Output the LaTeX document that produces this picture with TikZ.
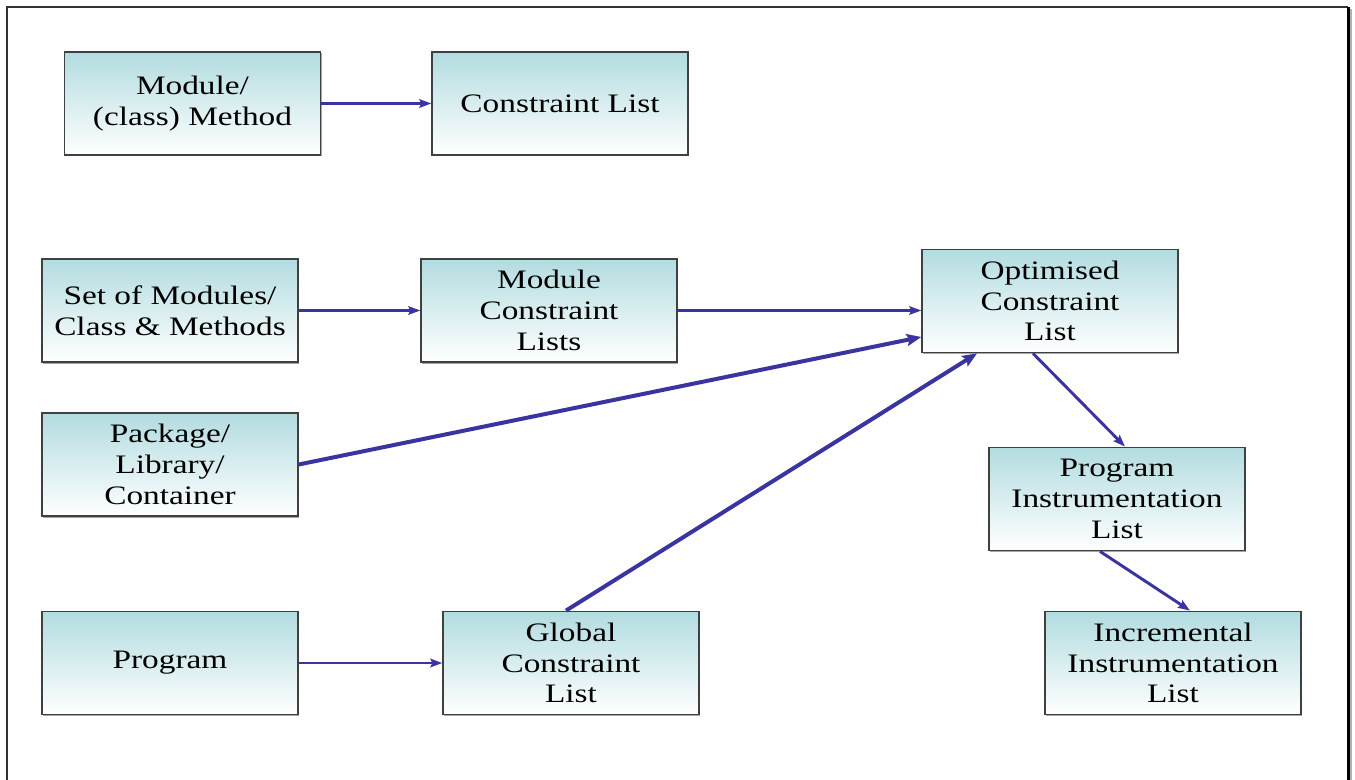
\documentclass[tikz,border=0pt]{standalone}
\usepackage{fontspec}
\setmainfont{Liberation Serif}[FakeStretch=1.25]
\usetikzlibrary{arrows.meta,shadows,calc}
\definecolor{boxtop}{RGB}{178,220,224}
\definecolor{boxedge}{RGB}{64,64,64}
\definecolor{flow}{RGB}{58,52,160}
\tikzset{
  box/.style={draw=boxedge, line width=1.1pt, rectangle,
    top color=boxtop, bottom color=white,
    minimum width=192pt, minimum height=77.5pt,
    align=center, inner sep=2pt,
    font=\fontsize{20}{23}\selectfont,
    drop shadow={shadow xshift=1pt, shadow yshift=-1pt, opacity=0.35, fill=black}},
  thin flow/.style={draw=flow, line width=1.6pt,
    -{Stealth[length=9pt,width=6.5pt,inset=1.5pt]}},
  thick flow/.style={draw=flow, line width=3pt,
    -{Stealth[length=11pt,width=9pt,inset=2pt]}}
}
\begin{document}
\begin{tikzpicture}[x=0.75pt,y=-0.75pt]
  \useasboundingbox (0,0) rectangle (1355,780);
  \clip (0,0) rectangle (1355,780);
  % outer frame
  \fill[gray!60] (1350,9) rectangle (1352,800);
  \draw[line width=0.9pt, black!80] (7,800) -- (7,7) -- (1348,7);
  \draw[line width=1.6pt, black] (1348.5,7) -- (1348.5,800);

  % boxes
  \node[box] (method)  at (192.5,103.5) {Module/\\(class) Method};
  \node[box] (clist)   at (560,103.5)   {Constraint List};
  \node[box] (setmod)  at (170,310.5)   {Set of Modules/\\Class \& Methods};
  \node[box] (mclist)  at (549,310.5)   {Module\\Constraint\\Lists};
  \node[box] (opt)     at (1050,301)    {Optimised\\Constraint\\List};
  \node[box] (pkg)     at (170,464.5)   {Package/\\Library/\\Container};
  \node[box] (pil)     at (1117,499)    {Program\\Instrumentation\\List};
  \node[box] (prog)    at (170,663)     {Program};
  \node[box] (glob)    at (571,663)     {Global\\Constraint\\List};
  \node[box] (incr)    at (1173,663)    {Incremental\\Instrumentation\\List};

  % connectors
  \draw[thin flow] (method.east) -- (clist.west);
  \draw[thin flow] (setmod.east) -- (mclist.west);
  \draw[thin flow] (mclist.east) -- (mclist.east -| opt.west);
  \draw[thin flow] (prog.east) -- (glob.west);
  \draw[thick flow] (pkg.east) -- ([yshift=-27pt]opt.west);
  \draw[thick flow] ([xshift=-3.75pt]glob.north) -- ([xshift=-54.75pt]opt.south);
  \draw[thin flow, line width=2.2pt] ([xshift=-12.75pt]opt.south) -- ([xshift=6pt]pil.north);
  \draw[thin flow, line width=2.2pt] ([xshift=-12.75pt]pil.south) -- ([xshift=12.75pt]incr.north);
\end{tikzpicture}
\end{document}
